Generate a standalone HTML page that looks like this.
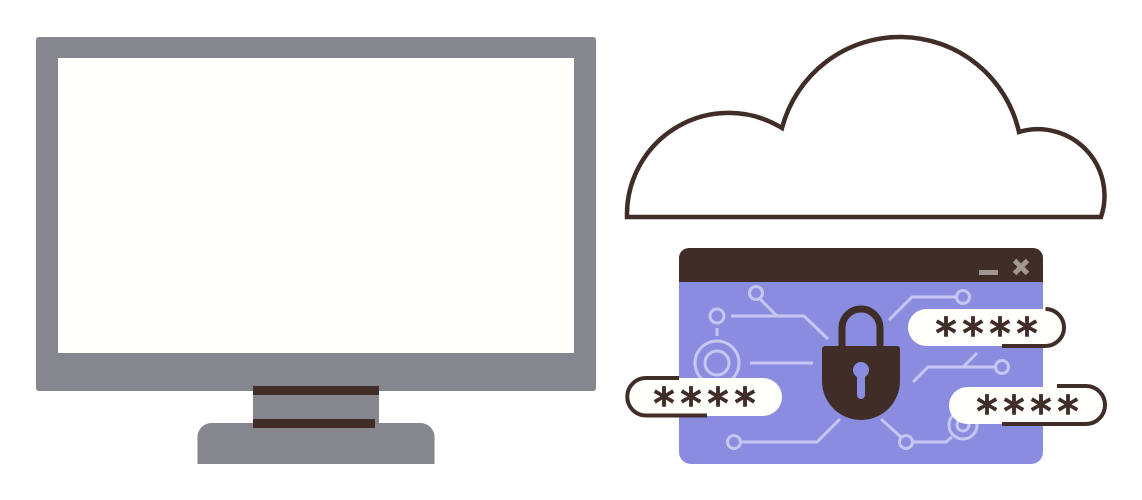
<!DOCTYPE html>
<html><head><meta charset="utf-8"><style>
html,body{margin:0;padding:0;background:#fff;width:1142px;height:500px;overflow:hidden}
svg{display:block}
text{font-family:"DejaVu Sans",sans-serif;font-size:42px;fill:#402d28;stroke:#402d28;stroke-width:1.5px;text-anchor:middle}
</style></head><body>
<svg width="1142" height="500" viewBox="0 0 1142 500" xmlns="http://www.w3.org/2000/svg">
<rect x="36" y="37" width="560" height="354" rx="3" fill="#86868e"/>
<rect x="58" y="58" width="516" height="295" fill="#fffffb"/>
<rect x="253" y="386" width="126" height="38" fill="#86868e"/>
<path d="M197.500 464V437a14 14 0 0 1 14-14H420.500a14 14 0 0 1 14 14V464Z" fill="#86868e"/>
<rect x="253" y="386" width="126" height="9" fill="#402d28"/>
<rect x="253" y="419" width="122" height="9" fill="#402d28"/>

<path d="M627 217A101.700 101.700 0 0 1 782 128A122 122 0 0 1 1019 132A66.500 66.500 0 0 1 1101 217Z" fill="#fff" stroke="#402d28" stroke-width="4.500"/>

<path d="M679 282V258a10 10 0 0 1 10-10H1033a10 10 0 0 1 10 10V282Z" fill="#402d28"/>
<path d="M679 282H1043V452a12 12 0 0 1-12 12H691a12 12 0 0 1-12-12Z" fill="#8a8ce0"/>
<g stroke="#a09693" stroke-width="5" fill="none"><path d="M979 272.500H998"/><path d="M1014.500 260.500L1027.500 273.500M1027.500 260.500L1014.500 273.500"/></g>

<g fill="none" stroke="#c5c7f2" stroke-width="3">
<circle cx="756" cy="293" r="6.500"/><path d="M760 299L777 316"/>
<circle cx="717" cy="316" r="7"/><path d="M731 316H804L828 339"/>
<path d="M717 328V336"/>
<circle cx="717" cy="363" r="22"/><circle cx="717" cy="363" r="12"/>
<path d="M750 363H813"/>
<circle cx="734" cy="442" r="6.500"/><path d="M741 442H817L840 419"/>
<circle cx="963" cy="297" r="6.500"/><path d="M957 297H912L889 320"/>
<circle cx="1002" cy="367" r="6.500"/><path d="M995 367H928L913 382M963 367L977 353"/>
<circle cx="906" cy="442" r="6.500"/><path d="M881 419L902 438M913 442H946L952 437"/>
<circle cx="963" cy="425" r="14"/><circle cx="963" cy="425" r="6"/>
</g>

<path d="M842 348V328a19 19 0 0 1 38 0V348" fill="none" stroke="#402d28" stroke-width="7"/>
<path d="M825 346H897a3 3 0 0 1 3 3V381a39 39 0 0 1-78 0V349a3 3 0 0 1 3-3Z" fill="#402d28"/>
<circle cx="861" cy="370" r="8" fill="#8a8ce0"/>
<path d="M861 372V395" stroke="#8a8ce0" stroke-width="8" stroke-linecap="round"/>

<rect x="627" y="378" width="155" height="38" rx="19" fill="#fffffb"/>
<rect x="908" y="309" width="156" height="37" rx="18.500" fill="#fffffb"/>
<rect x="949" y="387" width="156" height="37" rx="18.500" fill="#fffffb"/>
<g fill="none" stroke="#402d28" stroke-width="4">
<path d="M679 378H646A18.750 18.750 0 0 0 646 415.500H707"/>
<path d="M1045.500 309A18.500 18.500 0 0 1 1045.500 346H1002"/>
<path d="M1057 386H1086A19 19 0 0 1 1086 424H1002"/>
</g>
<text x="664" y="418">*</text><text x="691" y="418">*</text><text x="718" y="418">*</text><text x="745" y="418">*</text>
<text x="946" y="348">*</text><text x="973" y="348">*</text><text x="1000" y="348">*</text><text x="1027" y="348">*</text>
<text x="987" y="426">*</text><text x="1014" y="426">*</text><text x="1041" y="426">*</text><text x="1068" y="426">*</text>
</svg>
</body></html>
